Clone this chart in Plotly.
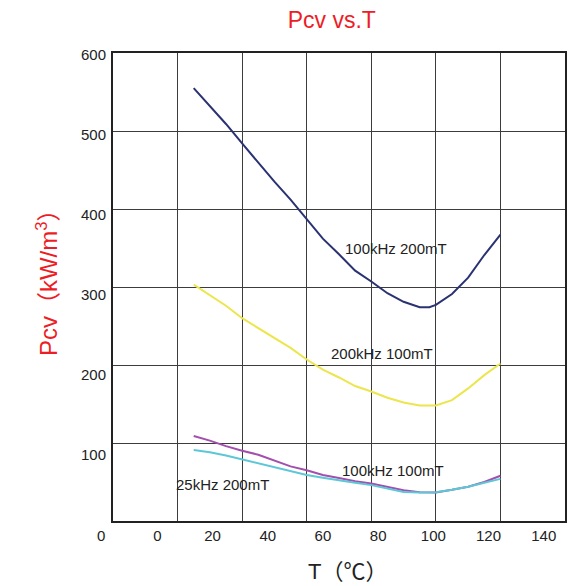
import plotly.graph_objects as go

# Temperature points (°C) and core loss Pcv (kW/m3)
T_100k_200m = [25, 30, 35, 40, 45, 50, 55, 60, 65, 70, 75, 80, 85, 90, 95, 98, 100, 105, 110, 115, 120]
P_100k_200m = [555, 532, 509, 484, 459, 435, 412, 387, 362, 342, 321, 307, 292, 281, 274, 274, 277, 291, 312, 341, 367]

T_200k_100m = [25, 30, 35, 40, 45, 50, 55, 60, 65, 70, 75, 80, 85, 90, 95, 100, 105, 110, 115, 120]
P_200k_100m = [303, 290, 276, 260, 247, 235, 222, 207, 194, 184, 173, 166, 158, 152, 148, 148, 155, 170, 187, 202]

T_100k_100m = [25, 30, 35, 40, 45, 50, 55, 60, 65, 70, 75, 80, 85, 90, 95, 100, 105, 110, 115, 120]
P_100k_100m = [109, 103, 96, 90, 85, 77, 70, 65, 59, 55, 51, 48, 44, 39.5, 37, 36.6, 40, 44, 50, 58]

T_25k_200m = [25, 30, 35, 40, 45, 50, 55, 60, 65, 70, 75, 80, 85, 90, 95, 100, 105, 110, 115, 120]
P_25k_200m = [91, 88, 84, 79, 74, 69, 64, 59, 55.5, 52, 49, 46, 41.5, 37.2, 36.5, 36.8, 40, 44, 49, 54]

grid_x = [0, 20, 40, 60, 80, 100, 120, 140]
grid_y = [0, 100, 200, 300, 400, 500, 600]
xtick_labels = [0, 20, 40, 60, 80, 100, 120, 140]
ytick_labels = [100, 200, 300, 400, 500, 600]

series = [
    ("100kHz 200mT", T_100k_200m, P_100k_200m, "#2a3272"),
    ("200kHz 100mT", T_200k_100m, P_200k_100m, "#ece64e"),
    ("100kHz 100mT", T_100k_100m, P_100k_100m, "#a24fae"),
    ("25kHz 200mT", T_25k_200m, P_25k_200m, "#5cc7d6"),
]

labels = [
    ("100kHz 200mT", 87.6, 350),
    ("200kHz 100mT", 83.2, 215),
    ("100kHz 100mT", 86.6, 65),
    ("25kHz 200mT", 33.9, 47),
]

fig = go.Figure()
for name, xs, ys, col in series:
    fig.add_trace(go.Scatter(x=xs, y=ys, mode="lines", name=name,
                             line=dict(color=col, width=2), showlegend=False,
                             hoverinfo="skip"))

font_main = "Liberation Sans, Arial, Noto Sans CJK SC, sans-serif"

for txt, xv, yv in labels:
    fig.add_annotation(x=xv, y=yv, xref="x", yref="y", text=txt, showarrow=False,
                       font=dict(size=15, color="#222222", family=font_main))

# y "0" label sits below the plot area on the label scale
fig.add_annotation(x=0, y=0, xref="paper", yref="paper", text="0", showarrow=False,
                   xanchor="right", yanchor="middle", xshift=-6, yshift=-14,
                   font=dict(size=15, color="#222222", family=font_main))

# axis titles
fig.add_annotation(x=0.518, y=-0.1076, xref="paper", yref="paper", text="T（℃）",
                   showarrow=False, xanchor="center", yanchor="middle",
                   font=dict(size=22, color="#222222", family=font_main))
fig.add_annotation(x=-0.1474, y=0.522, xref="paper", yref="paper",
                   text="Pcv（kW/m<sup>3</sup>）", textangle=-90,
                   showarrow=False, xanchor="center", yanchor="middle",
                   font=dict(size=24, color="#ee1c25", family=font_main))

gridcol = "#3c3c3c"
fig.update_layout(
    width=587, height=586,
    margin=dict(l=113, r=22, t=53, b=65),
    paper_bgcolor="white", plot_bgcolor="white",
    title=dict(text="Pcv vs.T", x=331.8 / 587, xanchor="center", y=1 - 20 / 586, yanchor="middle",
               font=dict(size=23, color="#ee1c25", family=font_main)),
    xaxis=dict(range=[0, 140], tickvals=grid_x, showticklabels=False, showgrid=True,
               gridcolor=gridcol, gridwidth=1.4, showline=True, linecolor="#222222",
               linewidth=2, mirror=True, zeroline=False, ticks=""),
    yaxis=dict(range=[0, 600], tickvals=grid_y, showticklabels=False, showgrid=True,
               gridcolor=gridcol, gridwidth=1.4, showline=True, linecolor="#222222",
               linewidth=2, mirror=True, zeroline=False, ticks=""),
    xaxis2=dict(range=[-16.06, 147.7], overlaying="x", anchor="y", side="bottom",
                tickvals=xtick_labels, showgrid=False, zeroline=False, showline=False,
                ticks="outside", ticklen=1, tickcolor="rgba(0,0,0,0)",
                tickfont=dict(size=15, color="#222222", family=font_main)),
    yaxis2=dict(range=[17.3, 602.3], overlaying="y", anchor="x", side="left",
                tickvals=ytick_labels, showgrid=False, zeroline=False, showline=False,
                ticks="outside", ticklen=3, tickcolor="rgba(0,0,0,0)",
                tickfont=dict(size=15, color="#222222", family=font_main)),
)
# invisible placeholder trace so the label axes render
fig.add_trace(go.Scatter(x=[None], y=[None], xaxis="x2", yaxis="y2", showlegend=False,
                         hoverinfo="skip", mode="lines"))

fig.write_html("out.html")
